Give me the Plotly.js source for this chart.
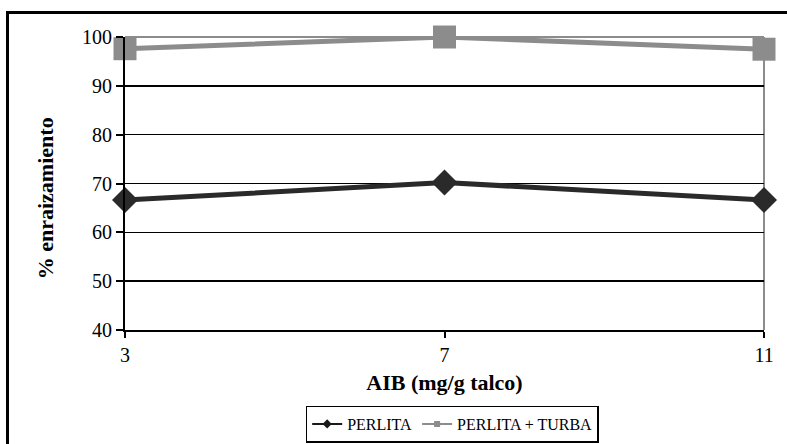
<!DOCTYPE html>
<html>
<head>
<meta charset="utf-8">
<script src="https://cdn.plot.ly/plotly-3.0.1.min.js"></script>
<style>
  html, body { margin: 0; padding: 0; background: #fff; }
  #wrap { position: relative; width: 787px; height: 444px; overflow: hidden; }
  #frame { position: absolute; left: 6px; top: 11px; width: 800px; height: 460px;
           border: 3px solid #000; box-sizing: border-box; pointer-events: none; }
  #chart { position: absolute; left: 0; top: 0; width: 787px; height: 444px; }
</style>
</head>
<body>
<div id="wrap">
  <div id="chart"></div>
  <div id="frame"></div>
</div>
<script>
const doses = [3, 7, 11];
const perlita = [66.6, 70.2, 66.6];
const perlitaTurba = [97.6, 100, 97.5];
const seriesNames = ["PERLITA", "PERLITA + TURBA"];
const yTicks = [40, 50, 60, 70, 80, 90, 100];
const xTitle = "AIB (mg/g talco)";
const yTitle = "% enraizamiento";

const serif = "'Liberation Serif', 'Times New Roman', serif";

const traces = [
  {
    x: doses, y: perlitaTurba, type: "scatter", mode: "lines+markers",
    name: seriesNames[1], showlegend: false, cliponaxis: false,
    line: { color: "#8c8c8c", width: 5 },
    marker: { symbol: "square", size: 23, color: "#8c8c8c" }
  },
  {
    x: doses, y: perlita, type: "scatter", mode: "lines+markers",
    name: seriesNames[0], showlegend: false, cliponaxis: false,
    line: { color: "#2a2a2a", width: 5 },
    marker: { symbol: "diamond", size: 20, color: "#2a2a2a" }
  },
  {
    x: [null], y: [null], type: "scatter", mode: "lines+markers",
    name: seriesNames[0], showlegend: true,
    line: { color: "#1a1a1a", width: 2 },
    marker: { symbol: "diamond", size: 7, color: "#1a1a1a" }
  },
  {
    x: [null], y: [null], type: "scatter", mode: "lines+markers",
    name: seriesNames[1], showlegend: true,
    line: { color: "#8c8c8c", width: 2 },
    marker: { symbol: "square", size: 6, color: "#8c8c8c" }
  }
];

const layout = {
  width: 787, height: 444,
  margin: { l: 125, r: 23, t: 37, b: 114, pad: 0, autoexpand: false },
  paper_bgcolor: "#fff", plot_bgcolor: "#fff",
  font: { family: serif, color: "#000" },
  showlegend: true,
  legend: {
    orientation: "h", x: 0.512, xanchor: "center",
    yref: "container", y: 0.045, yanchor: "middle",
    bordercolor: "#000", borderwidth: 1.5, bgcolor: "#fff",
    font: { family: serif, size: 16, color: "#000" },
    traceorder: "normal", tracegroupgap: 0
  },
  xaxis: {
    range: [3, 11], tickvals: doses, ticktext: doses.map(String),
    showgrid: false, zeroline: false, automargin: false,
    showline: true, linecolor: "#000", linewidth: 2,
    ticks: "outside", ticklen: 6, tickwidth: 2, tickcolor: "#000",
    tickfont: { family: serif, size: 20, color: "#000" },
    title: { text: "<b>" + xTitle + "</b>", font: { family: serif, size: 22, color: "#000" }, standoff: 10 }
  },
  yaxis: {
    range: [40, 100], tickvals: yTicks, automargin: false,
    showgrid: true, gridcolor: "#000", gridwidth: 1.5,
    zeroline: false,
    showline: true, linecolor: "#000", linewidth: 2,
    ticks: "outside", ticklen: 7, tickwidth: 2, tickcolor: "#000",
    tickfont: { family: serif, size: 20, color: "#000" }
  },
  annotations: [
    { text: "<b>" + yTitle + "</b>", xref: "paper", yref: "paper",
      x: -0.125, y: 0.45, xanchor: "center", yanchor: "middle",
      textangle: -90, showarrow: false,
      font: { family: serif, size: 22, color: "#000" } }
  ],
  shapes: [
    { type: "line", xref: "paper", yref: "paper", x0: 0, x1: 1, y0: 1, y1: 1,
      line: { color: "#8c8c8c", width: 2 }, layer: "below" },
    { type: "line", xref: "paper", yref: "paper", x0: 1, x1: 1, y0: 0, y1: 1,
      line: { color: "#8c8c8c", width: 2 }, layer: "below" }
  ]
};

Plotly.newPlot("chart", traces, layout, { displayModeBar: false, staticPlot: true });
</script>
</body>
</html>
